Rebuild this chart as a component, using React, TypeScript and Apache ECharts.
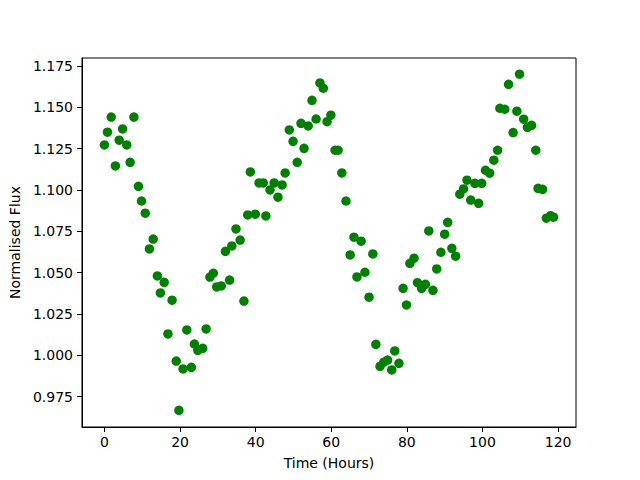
import React, { useEffect, useRef } from "react";
import * as echarts from "echarts";

const times: number[] = [
  0.0, 0.8, 1.8, 2.9, 3.9, 4.8, 5.9, 6.8, 7.8, 9.0,
  9.8, 10.8, 11.9, 12.9, 14.0, 14.8, 15.8, 16.8, 17.9, 19.0,
  19.7, 20.8, 21.8, 23.0, 23.8, 24.7, 26.0, 26.9, 27.9, 28.8,
  29.7, 30.9, 32.0, 33.1, 33.7, 34.8, 35.9, 36.9, 37.9, 38.6,
  39.9, 40.9, 42.0, 42.7, 43.8, 44.9, 45.9, 47.0, 47.8, 48.9,
  49.9, 51.0, 52.0, 52.8, 53.9, 54.9, 56.0, 57.0, 57.9, 58.9,
  59.9, 61.0, 61.8, 62.8, 63.9, 65.0, 66.0, 66.8, 67.9, 68.9,
  70.0, 71.0, 71.8, 72.9, 73.9, 74.9, 76.0, 76.8, 77.9, 79.0,
  79.9, 80.8, 81.9, 82.8, 83.9, 84.9, 85.8, 86.9, 87.9, 89.0,
  90.0, 90.8, 91.9, 92.9, 94.0, 95.0, 95.9, 96.9, 98.0, 99.0,
  99.8, 100.8, 101.9, 103.0, 104.0, 104.6, 105.9, 106.9, 108.1, 109.1,
  109.8, 110.9, 111.9, 113.0, 114.1, 114.7, 115.9, 116.9, 118.0, 118.8,
];

const flux: number[] = [
  1.1272, 1.1349, 1.1441, 1.1145, 1.1301, 1.1369, 1.1272, 1.1167, 1.1441, 1.1022,
  1.0933, 1.0859, 1.0643, 1.0703, 1.048, 1.0377, 1.0441, 1.0129, 1.0333, 0.9965,
  0.9667, 0.9917, 1.0153, 0.9927, 1.0068, 1.003, 1.0042, 1.0159, 1.0473, 1.0496,
  1.0413, 1.0419, 1.0629, 1.0455, 1.0661, 1.0764, 1.0697, 1.0328, 1.0849, 1.1109,
  1.0853, 1.1042, 1.1042, 1.0843, 1.1, 1.1042, 1.0956, 1.103, 1.1103, 1.1363,
  1.1294, 1.1167, 1.1403, 1.1252, 1.1387, 1.1542, 1.1429, 1.1647, 1.1615, 1.1413,
  1.1452, 1.124, 1.124, 1.1103, 1.0933, 1.0607, 1.0714, 1.0474, 1.069, 1.0502,
  1.0351, 1.0613, 1.0066, 0.9933, 0.9958, 0.9971, 0.9911, 1.0026, 0.9951, 1.0405,
  1.0304, 1.0556, 1.0587, 1.0439, 1.0405, 1.0429, 1.0752, 1.0393, 1.0522, 1.0623,
  1.0732, 1.0804, 1.0647, 1.0599, 1.0974, 1.1006, 1.1059, 1.0939, 1.104, 1.0919,
  1.104, 1.1119, 1.1101, 1.118, 1.124, 1.1494, 1.1488, 1.1639, 1.1347, 1.1476,
  1.17, 1.1428, 1.1379, 1.1391, 1.124, 1.101, 1.1004, 1.0829, 1.0844, 1.0835,
];

const xTicks: number[] = [0, 20, 40, 60, 80, 100, 120];
const yTicks: number[] = [0.975, 1.0, 1.025, 1.05, 1.075, 1.1, 1.125, 1.15, 1.175];

const FONT = "DejaVu Sans";

export default function App() {
  const ref = useRef<HTMLDivElement>(null);
  useEffect(() => {
    if (!ref.current) return;
    const chart = echarts.init(ref.current, null, { renderer: "svg" });
    const data = times.map((t, i) => [t, flux[i]]);
    chart.setOption({
      animation: false,
      backgroundColor: "#ffffff",
      grid: {
        left: 80,
        right: 64,
        top: 58,
        bottom: 53,
        show: true,
        borderColor: "#000000",
        borderWidth: 1,
        backgroundColor: "transparent",
      },
      xAxis: {
        type: "value",
        min: -5.94,
        max: 124.74,
        name: "Time (Hours)",
        nameLocation: "middle",
        nameGap: 29,
        nameTextStyle: { fontFamily: FONT, fontSize: 14, color: "#000" },
        axisLine: { show: true, onZero: false, lineStyle: { color: "#000", width: 1 } },
        axisTick: {
          show: true,
          length: 5,
          inside: false,
          lineStyle: { color: "#000" },
          customValues: xTicks,
        },
        axisLabel: {
          fontFamily: FONT,
          fontSize: 14,
          color: "#000",
          margin: 8,
          customValues: xTicks,
          formatter: (v: number) => String(v),
        },
        splitLine: { show: false },
      },
      yAxis: {
        type: "value",
        min: 0.9566,
        max: 1.1798,
        name: "Normalised Flux",
        nameLocation: "middle",
        nameGap: 57,
        nameRotate: 90,
        nameTextStyle: { fontFamily: FONT, fontSize: 14, color: "#000" },
        axisLine: { show: true, onZero: false, lineStyle: { color: "#000", width: 1 } },
        axisTick: {
          show: true,
          length: 5,
          inside: false,
          lineStyle: { color: "#000" },
          customValues: yTicks,
        },
        axisLabel: {
          fontFamily: FONT,
          fontSize: 14,
          color: "#000",
          margin: 9,
          customValues: yTicks,
          formatter: (v: number) => v.toFixed(3),
        },
        splitLine: { show: false },
      },
      series: [
        {
          type: "scatter",
          data,
          symbol: "circle",
          symbolSize: 9.5,
          itemStyle: { color: "#008000", opacity: 1 },
          emphasis: { disabled: true },
        },
      ],
    });
    return () => chart.dispose();
  }, []);
  return <div ref={ref} style={{ width: 640, height: 480, position: "absolute", left: 0, top: 0 }} />;
}
